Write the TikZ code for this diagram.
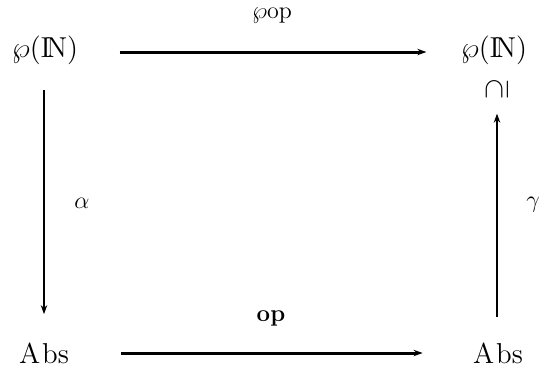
\documentclass[tikz,border=0pt]{standalone}
\usepackage{amssymb}
\usepackage{graphicx}
\usetikzlibrary{arrows.meta}
\begin{document}
\begin{tikzpicture}[x=0.5pt,y=-0.5pt,
  lbl/.style={font=\Large, inner sep=0pt},
  elbl/.style={font=\large, inner sep=0pt},
  harr/.style={line width=1.5pt, -{Stealth[length=4.5pt,width=3.2pt]}},
  varr/.style={line width=1pt, -{Stealth[length=4.5pt,width=3.2pt]}}]
\useasboundingbox (0,0) rectangle (542,372);
\node[lbl] (tl) at (45,50) {$\wp(\mathrm{I\!N})$};
\node[lbl] (tr) at (494,50) {$\wp(\mathrm{I\!N})$};
\node[lbl] (sub) at (497,89) {\rotatebox{90}{$\supseteq$}};
\node[lbl] (bl) at (44,353) {A\kern1pt bs};
\node[lbl] (br) at (498,353) {A\kern1pt bs};
\node[elbl] (ptop) at (272,16) {$\wp\mathrm{op}$};
\node[elbl] (pbot) at (271,318) {\textbf{op}};
\node[elbl] (alpha) at (82,203) {$\alpha$};
\node[elbl] (gamma) at (533,205) {$\gamma$};
\draw[harr, shorten <=20.5pt, shorten >=17pt] ([yshift=-1pt]tl.east) -- ([yshift=-1pt]tr.west);
\draw[harr, shorten <=26pt, shorten >=25pt] (bl.east) -- (br.west);
\draw[varr, shorten <=12.75pt, shorten >=14pt] ([xshift=-0.5pt]tl.south) -- ([xshift=-0.5pt]tl.south |- bl.north);
\draw[varr, shorten <=12.5pt, shorten >=6.5pt] ([xshift=-0.5pt]br.north) -- ([xshift=-0.5pt]br.north |- sub.south);
\end{tikzpicture}
\end{document}
